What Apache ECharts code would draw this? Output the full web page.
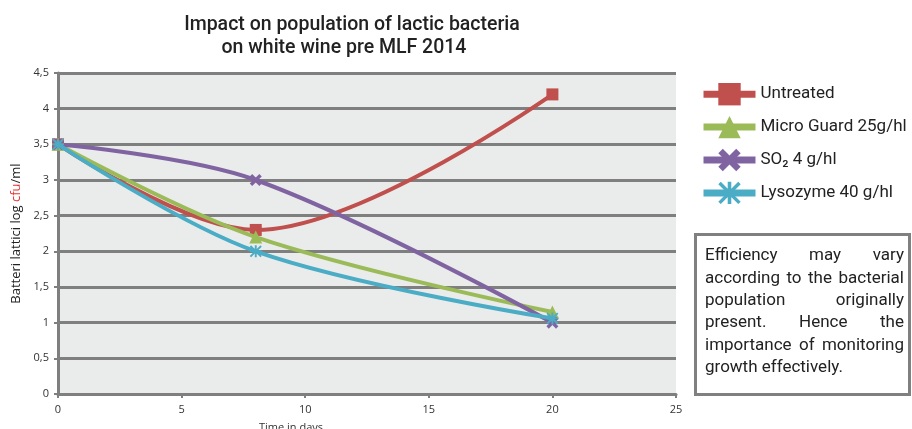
<!DOCTYPE html>
<html><head><meta charset="utf-8">
<script src="https://cdn.jsdelivr.net/npm/echarts@6/dist/echarts.min.js"></script>
<style>html,body{margin:0;padding:0;background:#fff}#c{width:912px;height:429px}</style>
</head><body><div id="c"></div>
<script>
const days = [0, 8, 20];
const untreated = [3.5, 2.3, 4.2];
const microGuard = [3.5, 2.2, 1.15];
const so2 = [3.5, 3.0, 1.0];
const lysozyme = [3.5, 2.0, 1.06];
const seriesNames = ['Untreated', 'Micro Guard 25g/hl', 'SO₂ 4 g/hl', 'Lysozyme 40 g/hl'];
const titleLines = ['Impact on population of lactic bacteria', 'on white wine pre MLF 2014'];
const noteLines = [
  ['Efficiency may vary', true],
  ['according to the bacterial', true],
  ['population originally', true],
  ['present. Hence the', true],
  ['importance of monitoring', true],
  ['growth effectively.', false]
];

const colors = ['#c0504d', '#9bbb59', '#8064a2', '#4bacc6'];
const xSym = 'path://M0,2 L2,0 L5,3 L8,0 L10,2 L7,5 L10,8 L8,10 L5,7 L2,10 L0,8 L3,5 Z';
const starSym = 'path://M4.2,0 H5.8 V10 H4.2 Z M0,4.2 H10 V5.8 H0 Z M0,1.1 L1.1,0 L10,8.9 L8.9,10 Z M8.9,0 L10,1.1 L1.1,10 L0,8.9 Z';
const symbols = ['rect', 'triangle', xSym, starSym];
const dataSets = [untreated, microGuard, so2, lysozyme];

const FONT = 'Roboto';
const noteFont = 17;
const cv = document.createElement('canvas').getContext('2d');
cv.font = noteFont + 'px ' + FONT;
const boxL = 705, boxR = 904, lineY0 = 256, lineH = 22.4;
const noteGraphics = [];
noteLines.forEach(([line, justify], i) => {
  const y = lineY0 + i * lineH;
  if (!justify) {
    noteGraphics.push({type: 'text', x: boxL, y: y, style: {text: line, font: noteFont + 'px ' + FONT, fill: '#222', textAlign: 'left', textVerticalAlign: 'middle'}});
    return;
  }
  const words = line.split(' ');
  const widths = words.map(w => cv.measureText(w).width);
  const total = widths.reduce((a, b) => a + b, 0);
  const gap = (boxR - boxL - total) / (words.length - 1);
  let x = boxL;
  words.forEach((w, k) => {
    noteGraphics.push({type: 'text', x: x, y: y, style: {text: w, font: noteFont + 'px ' + FONT, fill: '#222', textAlign: 'left', textVerticalAlign: 'middle'}});
    x += widths[k] + gap;
  });
});

const chart = echarts.init(document.getElementById('c'), null, {renderer: 'canvas'});
const gridColor = '#7f7f7f';
chart.setOption({
  animation: false,
  backgroundColor: '#ffffff',
  textStyle: {fontFamily: FONT},
  grid: {left: 58, right: 236, top: 73, bottom: 35, show: true, backgroundColor: '#eaeceb', borderWidth: 0, outerBoundsMode: 'none', containLabel: false},
  xAxis: {
    type: 'value', min: 0, max: 25, interval: 5,
    name: 'Time in days', nameLocation: 'middle', nameGap: 28,
    nameTextStyle: {fontSize: 11, color: '#333', fontFamily: 'Open Sans', padding: [0, 152, 0, 0]},
    axisLine: {show: true, lineStyle: {color: gridColor, width: 3}},
    axisTick: {show: true, length: 4, lineStyle: {color: gridColor, width: 2}},
    axisLabel: {fontSize: 11, color: '#333', margin: 10, fontFamily: 'Open Sans'},
    splitLine: {show: false}
  },
  yAxis: {
    type: 'value', min: 0, max: 4.5, interval: 0.5,
    name: '{a|Batteri lattici log }{r|cfu}{a|/ml}', nameLocation: 'middle', nameGap: 30,
    nameTextStyle: {rich: {a: {fontSize: 13, color: '#222', fontFamily: 'Open Sans'}, r: {fontSize: 13, color: '#e8302e', fontFamily: 'Open Sans'}}},
    axisLine: {show: true, lineStyle: {color: gridColor, width: 3}},
    axisTick: {show: true, length: 4, lineStyle: {color: gridColor, width: 2}},
    axisLabel: {fontSize: 11, color: '#333', margin: 9, fontFamily: 'Open Sans', formatter: v => String(v).replace('.', ',')},
    splitLine: {show: true, lineStyle: {color: gridColor, width: 3}}
  },
  legend: {
    orient: 'vertical', left: 695, top: 78, itemWidth: 52, itemHeight: 28, itemGap: 10.5,
    lineStyle: {width: 7},
    textStyle: {fontSize: 17, color: '#222', fontFamily: FONT},
    data: seriesNames
  },
  series: dataSets.map((d, i) => ({
    name: seriesNames[i], type: 'line', smooth: 0.35,
    data: d.map((v, k) => [days[k], v]),
    symbol: symbols[i], symbolSize: i === 1 ? 13 : 12,
    showAllSymbol: true,
    lineStyle: {color: colors[i], width: 4},
    itemStyle: {color: colors[i]},
    z: 2 + i
  })),
  graphic: [
    {type: 'text', x: 352, y: 25, style: {text: titleLines[0], font: '500 19.5px ' + FONT, fill: '#222', textAlign: 'center', textVerticalAlign: 'middle'}},
    {type: 'text', x: 344, y: 48, style: {text: titleLines[1], font: '500 19.5px ' + FONT, fill: '#222', textAlign: 'center', textVerticalAlign: 'middle'}},
    {type: 'rect', shape: {x: 695.5, y: 234.5, width: 214, height: 160}, style: {fill: '#fff', stroke: '#808080', lineWidth: 3}},
    ...noteGraphics
  ]
});
</script></body></html>
